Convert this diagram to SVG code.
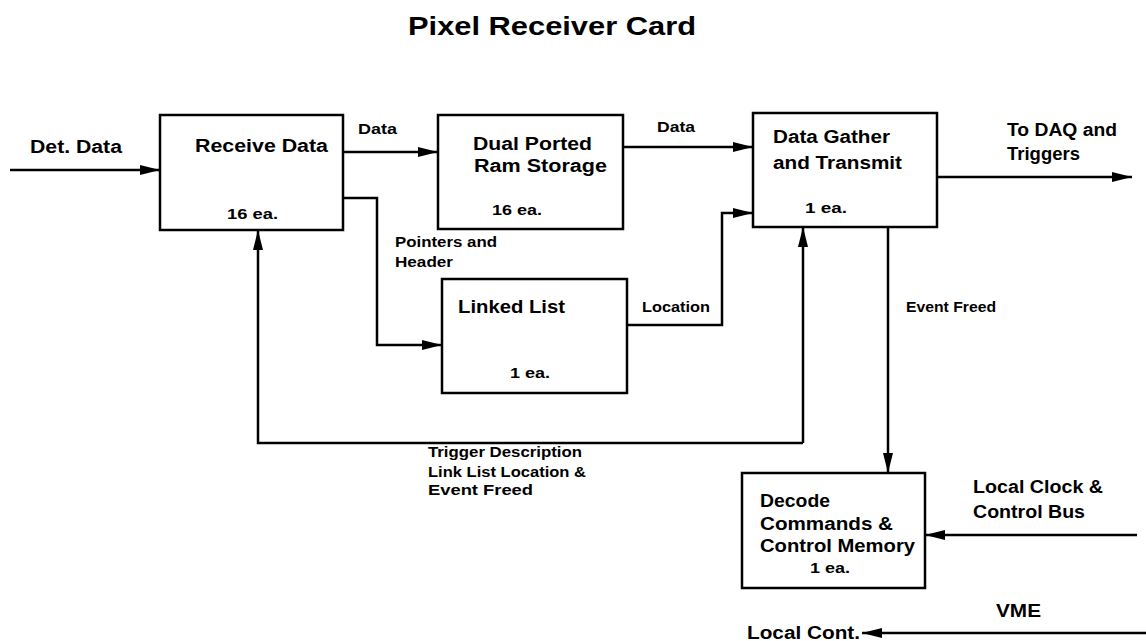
<svg xmlns="http://www.w3.org/2000/svg" width="1146" height="641" viewBox="0 0 1146 641">
<defs>
<style>
.box{fill:#fff;stroke:#000;stroke-width:2.5}
.ln{fill:none;stroke:#000;stroke-width:2.5}
.t{font-family:"Liberation Sans",Arial,sans-serif;font-weight:bold;fill:#000}
.lg{font-size:18px}
.md{font-size:15px}
.sm{font-size:14px}
</style>
<marker id="ah" viewBox="0 0 20 10" refX="20" refY="5" markerWidth="20" markerHeight="10" markerUnits="userSpaceOnUse" orient="auto">
<path d="M0,0 L20,5 L0,10 z" fill="#000"/>
</marker>
</defs>
<rect width="1146" height="641" fill="#fff"/>
<text class="t" x="408" y="35" font-size="26" textLength="288" lengthAdjust="spacingAndGlyphs">Pixel Receiver Card</text>

<g id="connectors">
<line class="ln" x1="10" y1="170" x2="160" y2="170" marker-end="url(#ah)"/>
<line class="ln" x1="343" y1="152" x2="438" y2="152" marker-end="url(#ah)"/>
<line class="ln" x1="623" y1="147" x2="753" y2="147" marker-end="url(#ah)"/>
<line class="ln" x1="937" y1="177" x2="1132" y2="177" marker-end="url(#ah)"/>
<polyline class="ln" points="343,198 377,198 377,345 442,345" marker-end="url(#ah)"/>
<polyline class="ln" points="627,325 722,325 722,213 753,213" marker-end="url(#ah)"/>
<polyline class="ln" points="803,443 258,443 258,230" marker-end="url(#ah)"/>
<line class="ln" x1="803" y1="443" x2="803" y2="227" marker-end="url(#ah)"/>
<line class="ln" x1="888" y1="227" x2="888" y2="473" marker-end="url(#ah)"/>
<line class="ln" x1="1137" y1="535" x2="925" y2="535" marker-end="url(#ah)"/>
<line class="ln" x1="1146" y1="633" x2="862" y2="633" marker-end="url(#ah)"/>
<text class="t lg" x="30" y="153" textLength="92" lengthAdjust="spacingAndGlyphs">Det. Data</text>
<text class="t sm" x="358" y="134" textLength="39" lengthAdjust="spacingAndGlyphs">Data</text>
<text class="t sm" x="657" y="132" textLength="38" lengthAdjust="spacingAndGlyphs">Data</text>
<text class="t lg" x="1007" y="136" textLength="110" lengthAdjust="spacingAndGlyphs">To DAQ and</text>
<text class="t lg" x="1007" y="160" textLength="73" lengthAdjust="spacingAndGlyphs">Triggers</text>
<text class="t sm" x="395" y="247" textLength="102" lengthAdjust="spacingAndGlyphs">Pointers and</text>
<text class="t sm" x="395" y="267" textLength="58" lengthAdjust="spacingAndGlyphs">Header</text>
<text class="t sm" x="642" y="312" textLength="68" lengthAdjust="spacingAndGlyphs">Location</text>
<text class="t sm" x="906" y="312" textLength="90" lengthAdjust="spacingAndGlyphs">Event Freed</text>
<text class="t sm" x="428" y="457" textLength="154" lengthAdjust="spacingAndGlyphs">Trigger Description</text>
<text class="t sm" x="428" y="477" textLength="158" lengthAdjust="spacingAndGlyphs">Link List Location &amp;</text>
<text class="t sm" x="428" y="495" textLength="105" lengthAdjust="spacingAndGlyphs">Event Freed</text>
<text class="t lg" x="973" y="493" textLength="130" lengthAdjust="spacingAndGlyphs">Local Clock &amp;</text>
<text class="t lg" x="973" y="518" textLength="112" lengthAdjust="spacingAndGlyphs">Control Bus</text>
<text class="t lg" x="996" y="617" textLength="45" lengthAdjust="spacingAndGlyphs">VME</text>
<text class="t lg" x="747" y="639" textLength="113" lengthAdjust="spacingAndGlyphs">Local Cont.</text>
</g>

<g id="receive-data">
<rect class="box" x="160" y="115" width="183" height="115"/>
<text class="t lg" x="195" y="152" textLength="133" lengthAdjust="spacingAndGlyphs">Receive Data</text>
<text class="t md" x="227" y="219" textLength="51" lengthAdjust="spacingAndGlyphs">16 ea.</text>
</g>
<g id="dual-ported">
<rect class="box" x="438" y="115" width="185" height="114"/>
<text class="t lg" x="473" y="150" textLength="119" lengthAdjust="spacingAndGlyphs">Dual Ported</text>
<text class="t lg" x="474" y="172" textLength="133" lengthAdjust="spacingAndGlyphs">Ram Storage</text>
<text class="t md" x="492" y="215" textLength="50" lengthAdjust="spacingAndGlyphs">16 ea.</text>
</g>
<g id="data-gather">
<rect class="box" x="753" y="113" width="184" height="114"/>
<text class="t lg" x="773" y="143" textLength="117" lengthAdjust="spacingAndGlyphs">Data Gather</text>
<text class="t lg" x="773" y="169" textLength="129" lengthAdjust="spacingAndGlyphs">and Transmit</text>
<text class="t md" x="805" y="213" textLength="42" lengthAdjust="spacingAndGlyphs">1 ea.</text>
</g>
<g id="linked-list">
<rect class="box" x="442" y="279" width="185" height="114"/>
<text class="t lg" x="458" y="313" textLength="107" lengthAdjust="spacingAndGlyphs">Linked List</text>
<text class="t md" x="510" y="378" textLength="40" lengthAdjust="spacingAndGlyphs">1 ea.</text>
</g>
<g id="decode">
<rect class="box" x="742" y="473" width="183" height="115"/>
<text class="t lg" x="760" y="507" textLength="70" lengthAdjust="spacingAndGlyphs">Decode</text>
<text class="t lg" x="760" y="530" textLength="133" lengthAdjust="spacingAndGlyphs">Commands &amp;</text>
<text class="t lg" x="760" y="552" textLength="155" lengthAdjust="spacingAndGlyphs">Control Memory</text>
<text class="t md" x="810" y="573" textLength="40" lengthAdjust="spacingAndGlyphs">1 ea.</text>
</g>
</svg>
